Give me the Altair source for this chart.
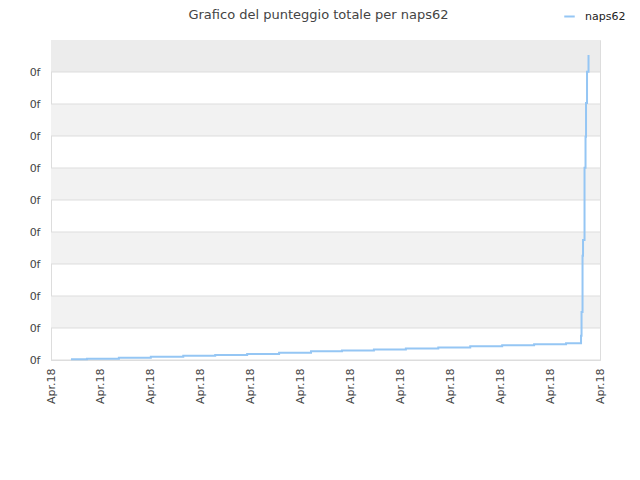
import altair as alt
import pandas as pd

# Step-line data (axis units: x 0..11, y 0..10)
x_vals = [0.40, 0.72, 1.36, 2.00, 2.65, 3.29, 3.93, 4.57, 5.21, 5.83, 6.47, 7.11,
          7.76, 8.40, 9.04, 9.68, 10.32, 10.62, 10.63, 10.65, 10.66, 10.69, 10.71,
          10.72, 10.74, 10.77]
y_vals = [0.02, 0.04, 0.07, 0.10, 0.13, 0.16, 0.19, 0.23, 0.27, 0.30, 0.33, 0.36,
          0.39, 0.43, 0.46, 0.49, 0.52, 0.76, 1.50, 3.26, 3.75, 6.01, 6.98,
          8.03, 9.01, 9.53]
series_name = "naps62"

x_ticks = list(range(0, 12))
y_ticks = list(range(0, 10))
x_label = "Apr.18"
y_label = "0f"

band_lo = [1, 3, 5, 7, 9]
band_hi = [2, 4, 6, 8, 10]
band_fill = ["#f2f2f2", "#f2f2f2", "#f2f2f2", "#f2f2f2", "#ececec"]

line_df = pd.DataFrame({"x": x_vals, "y": y_vals, "series": series_name})
band_df = pd.DataFrame({"lo": band_lo, "hi": band_hi, "fill": band_fill})
grid_df = pd.DataFrame({"g": y_ticks})

W, H = 549, 320
FONT = "DejaVu Sans"

xscale = alt.Scale(domain=[0, 11], nice=False, zero=False)
yscale = alt.Scale(domain=[0, 10], nice=False)

yaxis = alt.Axis(values=y_ticks, labelExpr=f"'{y_label}'", ticks=False,
                 grid=False, labelPadding=11,
                 labelFontSize=11, labelFont=FONT, labelColor="#444444",
                 domainColor="#dddddd")

bands = alt.Chart(band_df).mark_rect().encode(
    x=alt.value(0),
    x2=alt.value(W),
    y=alt.Y("lo:Q", scale=yscale, title=None, axis=yaxis),
    y2="hi:Q",
    fill=alt.Fill("fill:N", scale=None),
)

grid = alt.Chart(grid_df).mark_rule(color="#dddddd", strokeWidth=1).encode(
    x=alt.value(0),
    x2=alt.value(W),
    y=alt.Y("g:Q", scale=yscale, title=None, axis=yaxis),
)

line = alt.Chart(line_df).mark_line(interpolate="step-after", strokeWidth=2).encode(
    x=alt.X("x:Q", scale=xscale, title=None,
            axis=alt.Axis(values=x_ticks, labelExpr=f"'{x_label}'", labelAngle=-90,
                          labelAlign="right", labelBaseline="middle", ticks=False,
                          grid=False, labelPadding=8, labelFontSize=11, labelFont=FONT,
                          labelColor="#444444", domainColor="#dddddd")),
    y=alt.Y("y:Q", scale=yscale, title=None, axis=yaxis),
    color=alt.Color("series:N", scale=alt.Scale(range=["#95c6f4"]),
                    legend=alt.Legend(title=None, orient="none", legendX=512, legendY=-30,
                                      symbolType="stroke", symbolStrokeWidth=2,
                                      symbolSize=110, labelOffset=9, labelFontSize=11,
                                      labelFont=FONT, labelColor="#222222")),
)

chart = alt.layer(bands, grid, line).properties(
    width=W,
    height=H,
    autosize=alt.AutoSizeParams(type="none"),
    padding={"left": 43, "top": 32, "right": 32, "bottom": 80},
    title=alt.TitleParams("Grafico del punteggio totale per naps62", fontSize=13,
                          font=FONT, fontWeight="normal", color="#444444",
                          anchor="middle", offset=-12, dx=-7),
).configure_view(stroke="#dddddd")

chart.save("out.html", embed_options={"renderer": "svg", "actions": False})
